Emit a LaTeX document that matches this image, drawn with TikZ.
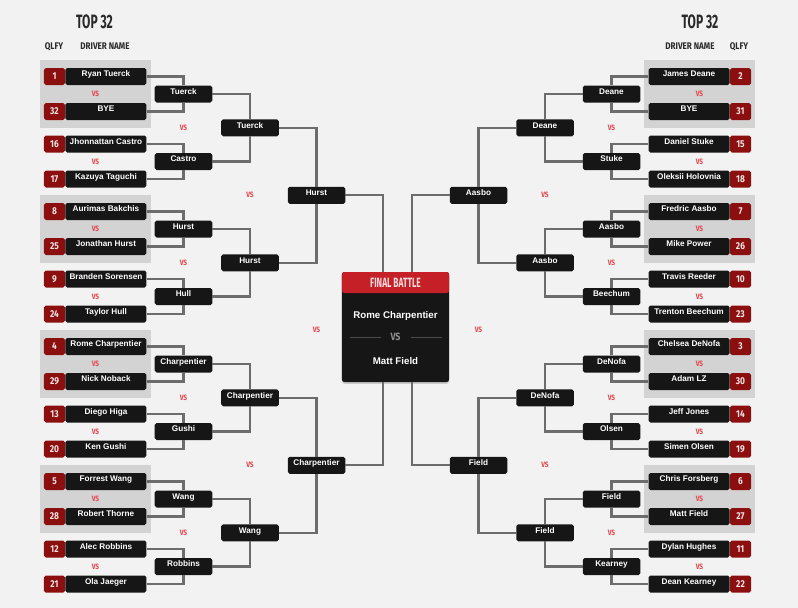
\documentclass[tikz,border=0pt]{standalone}
\usepackage{fontspec}
\setmainfont{Liberation Sans}
\newfontfamily\condfont[FakeStretch=0.62]{Fira Sans}
\newfontfamily\narrowfont[FakeStretch=0.84]{Fira Sans}
\usetikzlibrary{positioning,fit,backgrounds,calc,shadows}
\definecolor{pagebg}{HTML}{F2F2F2}
\definecolor{panelgray}{HTML}{D3D3D3}
\definecolor{boxblack}{HTML}{161616}
\definecolor{seedred}{HTML}{8C0F10}
\definecolor{seedtxt}{HTML}{F3E4E4}
\definecolor{vsred}{HTML}{E8464E}
\definecolor{wiregray}{HTML}{6C6C6C}
\definecolor{headred}{HTML}{C51F28}
\definecolor{headtxt}{HTML}{F6DADA}
\definecolor{headink}{HTML}{2A2A2A}
\definecolor{finalvs}{HTML}{8E8E8E}
\definecolor{finalrule}{HTML}{4A4A4A}
\tikzset{
  % ---- headings --------------------------------------------------
  title/.style      = {font=\condfont\bfseries\fontsize{16.5}{17}\selectfont,
                       text=headink, inner sep=0pt, anchor=base},
  colhead/.style    = {font=\narrowfont\bfseries\fontsize{8.2}{9}\selectfont,
                       text=headink, inner sep=0pt, anchor=base},
  % ---- drivers ---------------------------------------------------
  seed/.style       = {fill=seedred, text=seedtxt, inner sep=0pt,
                       minimum width=0.63cm, minimum height=0.51cm,
                       rounded corners=1.5pt,
                       font=\narrowfont\bfseries\fontsize{8.5}{9}\selectfont},
  driver/.style     = {fill=boxblack, text=white, inner sep=0pt,
                       minimum width=2.43cm, minimum height=0.51cm,
                       rounded corners=1.5pt, text height=4pt, text depth=3.5pt,
                       font=\bfseries\fontsize{7}{8}\selectfont},
  winner/.style     = {driver, minimum width=1.725cm},
  panel/.style      = {fill=panelgray, inner xsep=0.12cm, inner ysep=0.24cm},
  vs/.style         = {text=vsred, inner sep=0pt,
                       font=\narrowfont\bfseries\fontsize{6.6}{7}\selectfont},
  wire/.style       = {draw=wiregray, line width=1.75pt},
  % ---- final -----------------------------------------------------
  finalbox/.style   = {fill=boxblack, minimum width=3.21cm, minimum height=3.3cm,
                       rounded corners=2pt,
                       drop shadow={shadow xshift=0pt, shadow yshift=-1.5pt,
                       opacity=.35}},
  finalhead/.style  = {fill=headred, text=headtxt, inner sep=0pt,
                       minimum width=3.21cm, minimum height=0.63cm,
                       rounded corners=2pt,
                       font=\condfont\bfseries\fontsize{11.5}{12}\selectfont},
  finalname/.style  = {text=white, inner sep=0pt,
                       font=\bfseries\fontsize{8.3}{9}\selectfont},
  finalvs/.style    = {text=finalvs, inner sep=0pt,
                       font=\narrowfont\bfseries\fontsize{9}{10}\selectfont},
  finalrule/.style  = {draw=finalrule, line width=.5pt},
}
\begin{document}
\begin{tikzpicture}[x=0.03cm,y=-0.03cm]
  \useasboundingbox (0,0) rectangle (798,608);
  % headings
  \node[title] (topL) at (94.5,28.3) {TOP 32};
  \node[title] (topR) at (700,28.3) {TOP 32};
  \node[colhead] (qlfyL) at (54,49.3) {QLFY};
  \node[colhead] (nameL) at (105,49.3) {DRIVER NAME};
  \node[colhead] (nameR) at (690,49.3) {DRIVER NAME};
  \node[colhead] (qlfyR) at (739,49.3) {QLFY};
  % ---- left bracket, first round -----------------------------------
  \node[seed] (q1) at (54.5,76.5) {1};
  \node[driver, anchor=west] (p1) at (q1.east) {Ryan Tuerck};
  \node[seed] (q32) at (54.5,111.5) {32};
  \node[driver, anchor=west] (p32) at (q32.east) {BYE};
  \node[seed] (q16) at (54.5,144) {16};
  \node[driver, anchor=west] (p16) at (q16.east) {Jhonnattan Castro};
  \node[seed] (q17) at (54.5,179) {17};
  \node[driver, anchor=west] (p17) at (q17.east) {Kazuya Taguchi};
  \node[seed] (q8) at (54.5,211.5) {8};
  \node[driver, anchor=west] (p8) at (q8.east) {Aurimas Bakchis};
  \node[seed] (q25) at (54.5,246.5) {25};
  \node[driver, anchor=west] (p25) at (q25.east) {Jonathan Hurst};
  \node[seed] (q9) at (54.5,279) {9};
  \node[driver, anchor=west] (p9) at (q9.east) {Branden Sorensen};
  \node[seed] (q24) at (54.5,314) {24};
  \node[driver, anchor=west] (p24) at (q24.east) {Taylor Hull};
  \node[seed] (q4) at (54.5,346.5) {4};
  \node[driver, anchor=west] (p4) at (q4.east) {Rome Charpentier};
  \node[seed] (q29) at (54.5,381.5) {29};
  \node[driver, anchor=west] (p29) at (q29.east) {Nick Noback};
  \node[seed] (q13) at (54.5,414) {13};
  \node[driver, anchor=west] (p13) at (q13.east) {Diego Higa};
  \node[seed] (q20) at (54.5,449) {20};
  \node[driver, anchor=west] (p20) at (q20.east) {Ken Gushi};
  \node[seed] (q5) at (54.5,481.5) {5};
  \node[driver, anchor=west] (p5) at (q5.east) {Forrest Wang};
  \node[seed] (q28) at (54.5,516.5) {28};
  \node[driver, anchor=west] (p28) at (q28.east) {Robert Thorne};
  \node[seed] (q12) at (54.5,549) {12};
  \node[driver, anchor=west] (p12) at (q12.east) {Alec Robbins};
  \node[seed] (q21) at (54.5,584) {21};
  \node[driver, anchor=west] (p21) at (q21.east) {Ola Jaeger};
  % ---- right bracket, first round ----------------------------------
  \node[seed] (q2) at (740.5,76.5) {2};
  \node[driver, anchor=east] (p2) at (q2.west) {James Deane};
  \node[seed] (q31) at (740.5,111.5) {31};
  \node[driver, anchor=east] (p31) at (q31.west) {BYE};
  \node[seed] (q15) at (740.5,144) {15};
  \node[driver, anchor=east] (p15) at (q15.west) {Daniel Stuke};
  \node[seed] (q18) at (740.5,179) {18};
  \node[driver, anchor=east] (p18) at (q18.west) {Oleksii Holovnia};
  \node[seed] (q7) at (740.5,211.5) {7};
  \node[driver, anchor=east] (p7) at (q7.west) {Fredric Aasbo};
  \node[seed] (q26) at (740.5,246.5) {26};
  \node[driver, anchor=east] (p26) at (q26.west) {Mike Power};
  \node[seed] (q10) at (740.5,279) {10};
  \node[driver, anchor=east] (p10) at (q10.west) {Travis Reeder};
  \node[seed] (q23) at (740.5,314) {23};
  \node[driver, anchor=east] (p23) at (q23.west) {Trenton Beechum};
  \node[seed] (q3) at (740.5,346.5) {3};
  \node[driver, anchor=east] (p3) at (q3.west) {Chelsea DeNofa};
  \node[seed] (q30) at (740.5,381.5) {30};
  \node[driver, anchor=east] (p30) at (q30.west) {Adam LZ};
  \node[seed] (q14) at (740.5,414) {14};
  \node[driver, anchor=east] (p14) at (q14.west) {Jeff Jones};
  \node[seed] (q19) at (740.5,449) {19};
  \node[driver, anchor=east] (p19) at (q19.west) {Simen Olsen};
  \node[seed] (q6) at (740.5,481.5) {6};
  \node[driver, anchor=east] (p6) at (q6.west) {Chris Forsberg};
  \node[seed] (q27) at (740.5,516.5) {27};
  \node[driver, anchor=east] (p27) at (q27.west) {Matt Field};
  \node[seed] (q11) at (740.5,549) {11};
  \node[driver, anchor=east] (p11) at (q11.west) {Dylan Hughes};
  \node[seed] (q22) at (740.5,584) {22};
  \node[driver, anchor=east] (p22) at (q22.west) {Dean Kearney};
  % ---- later rounds ------------------------------------------------
  \node[winner] (L2a) at (183.5,94) {Tuerck};
  \node[winner] (L2b) at (183.5,161.5) {Castro};
  \node[winner] (L2c) at (183.5,229) {Hurst};
  \node[winner] (L2d) at (183.5,296.5) {Hull};
  \node[winner] (L2e) at (183.5,364) {Charpentier};
  \node[winner] (L2f) at (183.5,431.5) {Gushi};
  \node[winner] (L2g) at (183.5,499) {Wang};
  \node[winner] (L2h) at (183.5,566.5) {Robbins};
  \node[winner] (L3a) at (250,127.75) {Tuerck};
  \node[winner] (L3b) at (250,262.75) {Hurst};
  \node[winner] (L3c) at (250,397.75) {Charpentier};
  \node[winner] (L3d) at (250,532.75) {Wang};
  \node[winner] (L4a) at (316.5,195.25) {Hurst};
  \node[winner] (L4b) at (316.5,465.25) {Charpentier};
  \node[winner] (R2a) at (611.5,94) {Deane};
  \node[winner] (R2b) at (611.5,161.5) {Stuke};
  \node[winner] (R2c) at (611.5,229) {Aasbo};
  \node[winner] (R2d) at (611.5,296.5) {Beechum};
  \node[winner] (R2e) at (611.5,364) {DeNofa};
  \node[winner] (R2f) at (611.5,431.5) {Olsen};
  \node[winner] (R2g) at (611.5,499) {Field};
  \node[winner] (R2h) at (611.5,566.5) {Kearney};
  \node[winner] (R3a) at (545,127.75) {Deane};
  \node[winner] (R3b) at (545,262.75) {Aasbo};
  \node[winner] (R3c) at (545,397.75) {DeNofa};
  \node[winner] (R3d) at (545,532.75) {Field};
  \node[winner] (R4a) at (478.5,195.25) {Aasbo};
  \node[winner] (R4b) at (478.5,465.25) {Field};
  % ---- final -------------------------------------------------------
  \node[finalbox] (fin) at (395.5,327) {};
  \node[finalhead, anchor=north] (finhead) at (fin.north) {FINAL BATTLE};
  \node[finalname, anchor=base] (fin1) at (395.5,318.3) {Rome Charpentier};
  \node[finalvs] (finvs) at (395.5,337.3) {VS};
  \node[finalname, anchor=base] (fin2) at (395.5,364) {Matt Field};
  \draw[finalrule] ($(finvs.center)+(-15,0)$) -- ($(finvs.center)+(-46,0)$);
  \draw[finalrule] ($(finvs.center)+(15,0)$) -- ($(finvs.center)+(46,0)$);
  % ---- vs marks ----------------------------------------------------
  \node[vs] (vsL1a) at (95.5,94) {VS};
  \node[vs] (vsL1b) at (95.5,161.5) {VS};
  \node[vs] (vsL1c) at (95.5,229) {VS};
  \node[vs] (vsL1d) at (95.5,296.5) {VS};
  \node[vs] (vsL1e) at (95.5,364) {VS};
  \node[vs] (vsL1f) at (95.5,431.5) {VS};
  \node[vs] (vsL1g) at (95.5,499) {VS};
  \node[vs] (vsL1h) at (95.5,566.5) {VS};
  \node[vs] (vsL2a) at (183.5,127.75) {VS};
  \node[vs] (vsL2b) at (183.5,262.75) {VS};
  \node[vs] (vsL2c) at (183.5,397.75) {VS};
  \node[vs] (vsL2d) at (183.5,532.75) {VS};
  \node[vs] (vsL3a) at (250,195.25) {VS};
  \node[vs] (vsL3b) at (250,465.25) {VS};
  \node[vs] (vsL4) at (316.5,330.25) {VS};
  \node[vs] (vsR1a) at (699.5,94) {VS};
  \node[vs] (vsR1b) at (699.5,161.5) {VS};
  \node[vs] (vsR1c) at (699.5,229) {VS};
  \node[vs] (vsR1d) at (699.5,296.5) {VS};
  \node[vs] (vsR1e) at (699.5,364) {VS};
  \node[vs] (vsR1f) at (699.5,431.5) {VS};
  \node[vs] (vsR1g) at (699.5,499) {VS};
  \node[vs] (vsR1h) at (699.5,566.5) {VS};
  \node[vs] (vsR2a) at (611.5,127.75) {VS};
  \node[vs] (vsR2b) at (611.5,262.75) {VS};
  \node[vs] (vsR2c) at (611.5,397.75) {VS};
  \node[vs] (vsR2d) at (611.5,532.75) {VS};
  \node[vs] (vsR3a) at (545,195.25) {VS};
  \node[vs] (vsR3b) at (545,465.25) {VS};
  \node[vs] (vsR4) at (478.5,330.25) {VS};
  % ---- wires -------------------------------------------------------
  \draw[wire] (p1.east) -| (L2a.north);
  \draw[wire] (p32.east) -| (L2a.south);
  \draw[wire] (p16.east) -| (L2b.north);
  \draw[wire] (p17.east) -| (L2b.south);
  \draw[wire] (p8.east) -| (L2c.north);
  \draw[wire] (p25.east) -| (L2c.south);
  \draw[wire] (p9.east) -| (L2d.north);
  \draw[wire] (p24.east) -| (L2d.south);
  \draw[wire] (p4.east) -| (L2e.north);
  \draw[wire] (p29.east) -| (L2e.south);
  \draw[wire] (p13.east) -| (L2f.north);
  \draw[wire] (p20.east) -| (L2f.south);
  \draw[wire] (p5.east) -| (L2g.north);
  \draw[wire] (p28.east) -| (L2g.south);
  \draw[wire] (p12.east) -| (L2h.north);
  \draw[wire] (p21.east) -| (L2h.south);
  \draw[wire] (L2a.east) -| (L3a.north);
  \draw[wire] (L2b.east) -| (L3a.south);
  \draw[wire] (L2c.east) -| (L3b.north);
  \draw[wire] (L2d.east) -| (L3b.south);
  \draw[wire] (L2e.east) -| (L3c.north);
  \draw[wire] (L2f.east) -| (L3c.south);
  \draw[wire] (L2g.east) -| (L3d.north);
  \draw[wire] (L2h.east) -| (L3d.south);
  \draw[wire] (L3a.east) -| (L4a.north);
  \draw[wire] (L3b.east) -| (L4a.south);
  \draw[wire] (L3c.east) -| (L4b.north);
  \draw[wire] (L3d.east) -| (L4b.south);
  \draw[wire] (L4a.east) -| ($(fin.north)+(-12.2,0)$);
  \draw[wire] (L4b.east) -| ($(fin.south)+(-12.2,0)$);
  \draw[wire] (p2.west) -| (R2a.north);
  \draw[wire] (p31.west) -| (R2a.south);
  \draw[wire] (p15.west) -| (R2b.north);
  \draw[wire] (p18.west) -| (R2b.south);
  \draw[wire] (p7.west) -| (R2c.north);
  \draw[wire] (p26.west) -| (R2c.south);
  \draw[wire] (p10.west) -| (R2d.north);
  \draw[wire] (p23.west) -| (R2d.south);
  \draw[wire] (p3.west) -| (R2e.north);
  \draw[wire] (p30.west) -| (R2e.south);
  \draw[wire] (p14.west) -| (R2f.north);
  \draw[wire] (p19.west) -| (R2f.south);
  \draw[wire] (p6.west) -| (R2g.north);
  \draw[wire] (p27.west) -| (R2g.south);
  \draw[wire] (p11.west) -| (R2h.north);
  \draw[wire] (p22.west) -| (R2h.south);
  \draw[wire] (R2a.west) -| (R3a.north);
  \draw[wire] (R2b.west) -| (R3a.south);
  \draw[wire] (R2c.west) -| (R3b.north);
  \draw[wire] (R2d.west) -| (R3b.south);
  \draw[wire] (R2e.west) -| (R3c.north);
  \draw[wire] (R2f.west) -| (R3c.south);
  \draw[wire] (R2g.west) -| (R3d.north);
  \draw[wire] (R2h.west) -| (R3d.south);
  \draw[wire] (R3a.west) -| (R4a.north);
  \draw[wire] (R3b.west) -| (R4a.south);
  \draw[wire] (R3c.west) -| (R4b.north);
  \draw[wire] (R3d.west) -| (R4b.south);
  \draw[wire] (R4a.west) -| ($(fin.north)+(16.2,0)$);
  \draw[wire] (R4b.west) -| ($(fin.south)+(16.2,0)$);
  % ---- page and seeded panels --------------------------------------
  \begin{scope}[on background layer]
    \fill[pagebg] (0,0) rectangle (798,608);
    \node[panel, fit=(q1) (p32)] (boxL1) {};
    \node[panel, fit=(q8) (p25)] (boxL2) {};
    \node[panel, fit=(q4) (p29)] (boxL3) {};
    \node[panel, fit=(q5) (p28)] (boxL4) {};
    \node[panel, fit=(p2) (q31)] (boxR1) {};
    \node[panel, fit=(p7) (q26)] (boxR2) {};
    \node[panel, fit=(p3) (q30)] (boxR3) {};
    \node[panel, fit=(p6) (q27)] (boxR4) {};
  \end{scope}
\end{tikzpicture}
\end{document}
